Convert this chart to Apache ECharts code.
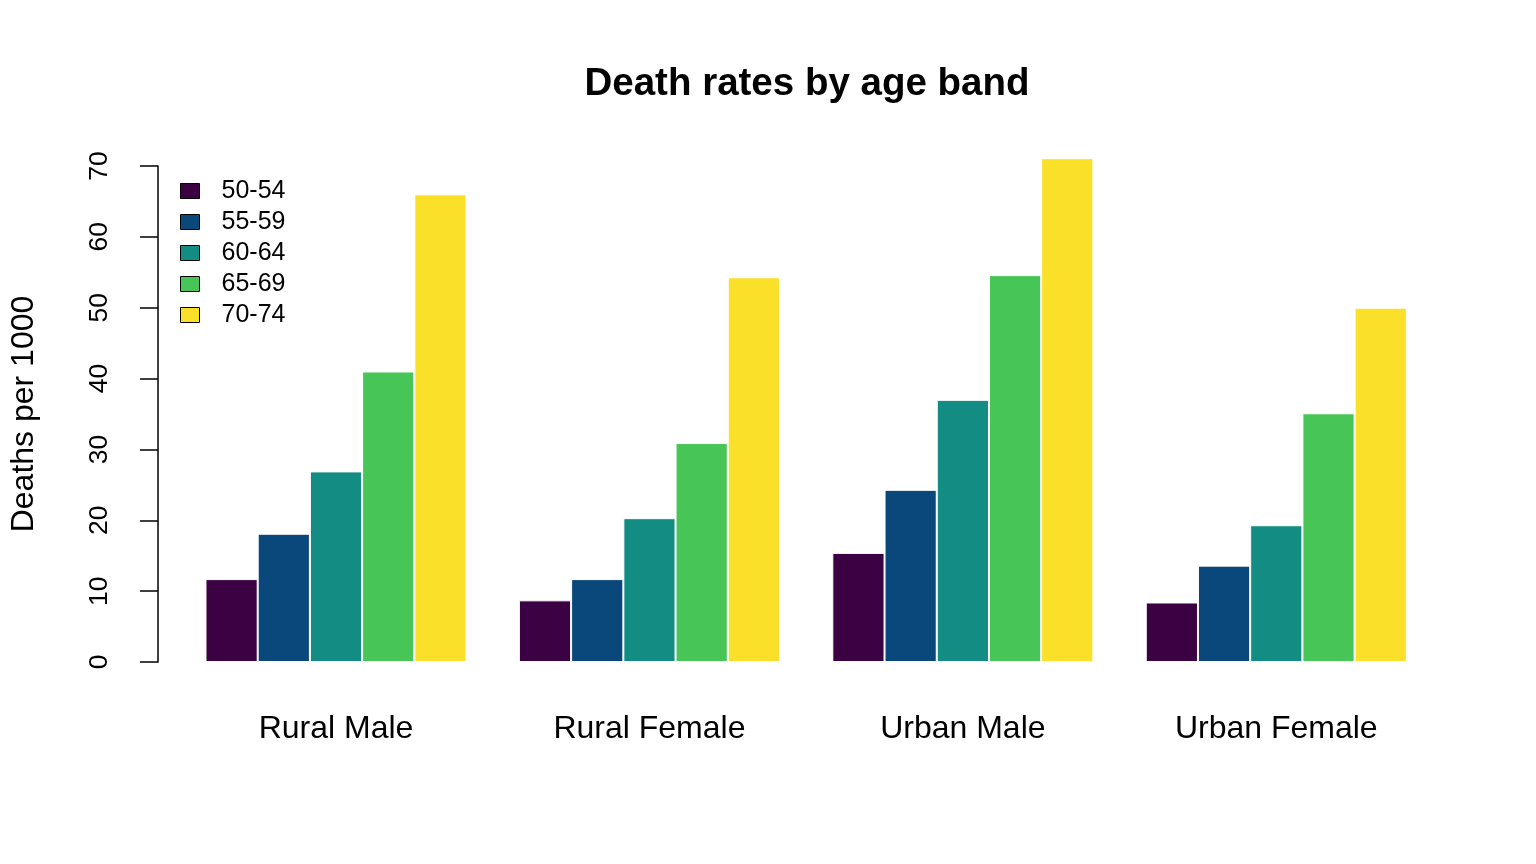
<!DOCTYPE html>
<html>
<head>
<meta charset="utf-8">
<script src="https://cdn.jsdelivr.net/npm/echarts@6/dist/echarts.min.js"></script>
<style>
  body { margin: 0; background: #fff; }
  #chart { width: 1536px; height: 864px; }
</style>
</head>
<body>
<div id="chart"></div>
<script>
const groups = ["Rural Male", "Rural Female", "Urban Male", "Urban Female"];
const ageBands = ["50-54", "55-59", "60-64", "65-69", "70-74"];
const colors = ["#3B0143", "#0A477A", "#138C83", "#47C556", "#FBE02A"];

// one array per age band, values per group
const band5054 = [11.7, 8.7, 15.4, 8.4];
const band5559 = [18.1, 11.7, 24.3, 13.6];
const band6064 = [26.9, 20.3, 37.0, 19.3];
const band6569 = [41.0, 30.9, 54.6, 35.1];
const band7074 = [66.0, 54.3, 71.1, 50.0];
const bandValues = [band5054, band5559, band6064, band6569, band7074];

const yTicks = [0, 10, 20, 30, 40, 50, 60, 70];

let myChart = echarts.init(document.getElementById("chart"));

let series = ageBands.map((name, i) => ({
  name: name,
  type: "bar",
  data: bandValues[i],
  barGap: "0%",
  barCategoryGap: "16.7%",
  clip: false,
  itemStyle: {
    color: colors[i],
    borderColor: "#fff",
    borderWidth: 1,
  },
  emphasis: { disabled: true },
}));

let option = {
  animation: false,
  textStyle: { fontFamily: "Liberation Sans, Arial, sans-serif" },
  title: {
    text: "Death rates by age band",
    left: 802,
    top: 60,
    textAlign: "center",
    textStyle: {
      fontSize: 38.5,
      fontWeight: "bold",
      color: "#000",
      fontFamily: "Liberation Sans, Arial, sans-serif",
    },
  },
  legend: {
    orient: "vertical",
    left: 175,
    top: 173,
    itemWidth: 19,
    itemHeight: 15,
    itemGap: 5,
    icon: "rect",
    data: ageBands,
    itemStyle: { borderColor: "#000", borderWidth: 1 },
    textStyle: {
      fontSize: 25,
      lineHeight: 26,
      color: "#000",
      padding: [0, 0, 0, 17],
      fontFamily: "Liberation Sans, Arial, sans-serif",
    },
  },
  grid: {
    left: 179.3,
    right: 103,
    top: 166,
    bottom: 202,
    containLabel: false,
  },
  xAxis: {
    type: "category",
    data: groups,
    axisLine: { show: false },
    axisTick: { show: false },
    axisLabel: {
      fontSize: 32,
      color: "#000",
      margin: 51,
      fontFamily: "Liberation Sans, Arial, sans-serif",
    },
  },
  yAxis: {
    type: "value",
    min: yTicks[0],
    max: yTicks[yTicks.length - 1],
    interval: 10,
    offset: 21.3,
    name: "Deaths per 1000",
    nameLocation: "middle",
    nameRotate: 90,
    nameGap: 118,
    nameTextStyle: {
      fontSize: 32,
      color: "#000",
      fontFamily: "Liberation Sans, Arial, sans-serif",
    },
    splitLine: { show: false },
    axisLine: { show: true, lineStyle: { color: "#000", width: 1.5 } },
    axisTick: { show: true, length: 18, lineStyle: { color: "#000", width: 1.5 } },
    axisLabel: {
      rotate: 90,
      fontSize: 26.5,
      color: "#000",
      margin: 45,
      fontFamily: "Liberation Sans, Arial, sans-serif",
    },
  },
  series: series,
};

myChart.setOption(option);
</script>
</body>
</html>
